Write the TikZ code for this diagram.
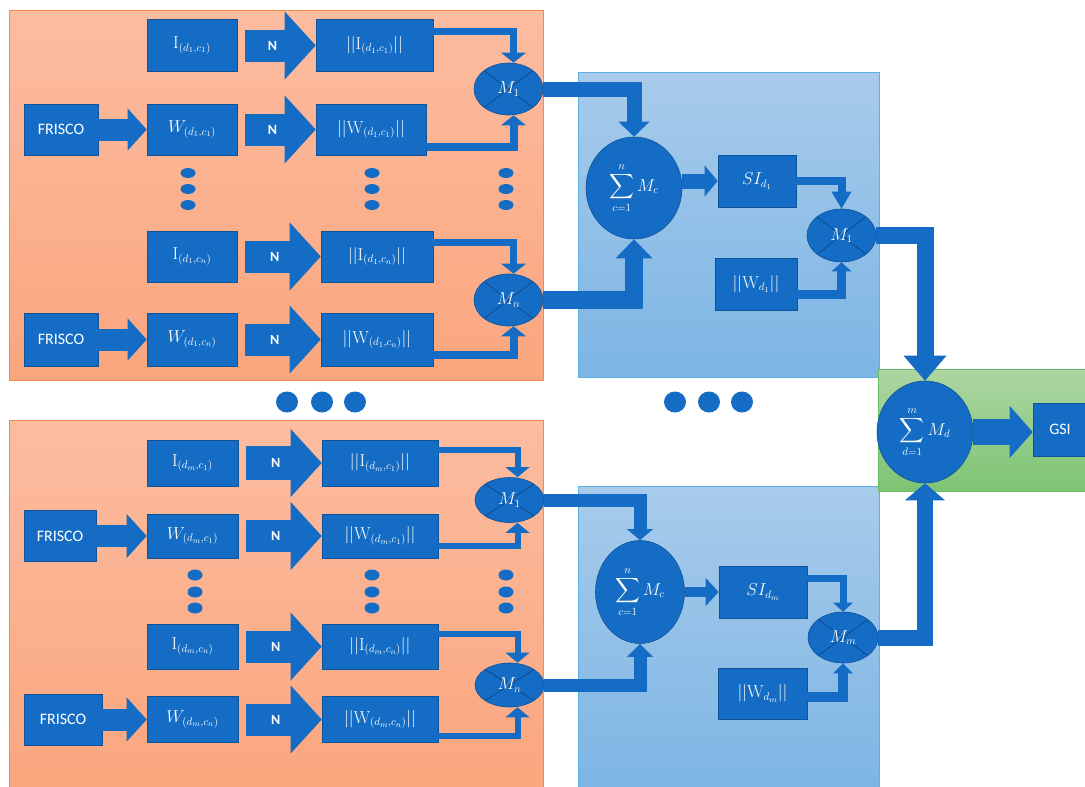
\documentclass[tikz,border=0pt]{standalone}
\usepackage{amsmath}
\usepackage[no-math]{fontspec}
\setmainfont{Carlito}
\usetikzlibrary{shapes.geometric,arrows.meta,positioning}
\definecolor{BoxBlue}{RGB}{21,108,196}
\definecolor{EdgeBlue}{RGB}{16,82,152}
\definecolor{CrossBlue}{RGB}{12,66,125}
\definecolor{PeachTop}{RGB}{252,188,160}
\definecolor{PeachBot}{RGB}{250,166,126}
\definecolor{PeachEdge}{RGB}{245,138,70}
\definecolor{SkyTop}{RGB}{168,203,235}
\definecolor{SkyBot}{RGB}{124,181,228}
\definecolor{SkyEdge}{RGB}{92,176,226}
\definecolor{LeafTop}{RGB}{172,214,162}
\definecolor{LeafBot}{RGB}{126,196,116}
\definecolor{LeafEdge}{RGB}{104,190,96}

\begin{document}
\begin{tikzpicture}[
    x=1pt, y=-1pt,
    blk/.style={rectangle, fill=BoxBlue, draw=EdgeBlue, line width=0.6pt, text=white, inner sep=0pt, minimum width=90pt, minimum height=52pt, font=\fontsize{16}{19}\selectfont},
    wide/.style={blk, minimum width=114pt},
    src/.style={blk, minimum width=74pt},
    mul/.style={ellipse, fill=BoxBlue, draw=EdgeBlue, line width=0.6pt, text=white, inner sep=0pt, minimum width=69pt, minimum height=52pt, font=\fontsize{16}{19}\selectfont,
        path picture={\draw[CrossBlue, line width=0.6pt] (path picture bounding box.north west) -- (path picture bounding box.south east) (path picture bounding box.north east) -- (path picture bounding box.south west);}},
    sigma/.style={ellipse, fill=BoxBlue, draw=EdgeBlue, line width=0.6pt, text=white, inner sep=0pt, minimum width=96pt, minimum height=102pt, font=\fontsize{16}{19}\selectfont},
    peach/.style={top color=PeachTop, bottom color=PeachBot, draw=PeachEdge, line width=1pt},
    sky/.style={top color=SkyTop, bottom color=SkyBot, draw=SkyEdge, line width=1pt},
    leaf/.style={top color=LeafTop, bottom color=LeafBot, draw=LeafEdge, line width=1pt},
    pipe/.style n args={3}{draw=BoxBlue, line width=#1, -{Triangle[length=#2 0 0, width=#3 0 0, line width=0pt 0 0]}},
    lab/.style={text=white, font=\fontsize{14}{16}\selectfont\bfseries, pos=0.45}
]
    \useasboundingbox (0,0) rectangle (1085,787);

    \path[peach] (9,10) rectangle (543,380);
    \path[peach] (9,420) rectangle (543,792);
    \path[sky] (578,72) rectangle (879,377);
    \path[sky] (578,486) rectangle (879,792);
    \path[leaf] (878,369) rectangle (1092,491);

    \foreach \x in {287,322,355,675,709,742}
        \fill[BoxBlue] (\x,402) ellipse [x radius=11pt, y radius=10.5pt];
    \foreach \x in {188,372,506}
        \foreach \y in {173,189,205}
            \fill[BoxBlue] (\x,\y) ellipse [x radius=7.5pt, y radius=5pt];
    \foreach \x in {195,372,506}
        \foreach \y in {575,592,608}
            \fill[BoxBlue] (\x,\y) ellipse [x radius=7.5pt, y radius=5.5pt];

    \node[blk] (i11) at (192,45.5) {$\mathrm{I}_{(d_1,c_1)}$};
    \node[wide, minimum width=117pt] (ni11) at (374.5,45.5) {$||\mathrm{I}_{(d_1,c_1)}||$};
    \node[src, minimum height=51pt] (f11) at (61,129.5) {FRISCO};
    \node[blk, minimum height=51pt] (w11) at (192,129.5) {$W_{(d_1,c_1)}$};
    \node[wide, minimum width=110pt, minimum height=51pt] (nw11) at (371,129.5) {$||\mathrm{W}_{(d_1,c_1)}||$};
    \node[mul] (m11) at (508.5,89) {$M_1$};

    \node[blk, minimum height=51pt] (i1n) at (192,256.5) {$\mathrm{I}_{(d_1,c_n)}$};
    \node[wide, minimum width=112pt, minimum height=51pt] (ni1n) at (377,256.5) {$||\mathrm{I}_{(d_1,c_n)}||$};
    \node[src, minimum height=53pt] (f1n) at (61,339.5) {FRISCO};
    \node[blk, minimum height=53pt] (w1n) at (192,339.5) {$W_{(d_1,c_n)}$};
    \node[wide, minimum width=112pt, minimum height=53pt] (nw1n) at (377,339.5) {$||\mathrm{W}_{(d_1,c_n)}||$};
    \node[mul] (m1n) at (508.5,300) {$M_n$};

    \node[sigma] (s1) at (634,188) {$\displaystyle\sum_{c=1}^{n} M_c$};
    \node[blk, minimum width=78pt] (si1) at (757,181) {$SI_{d_1}$};
    \node[mul, minimum height=53pt] (mm1) at (841.5,235.5) {$M_1$};
    \node[blk, minimum width=82pt] (wd1) at (756,284) {$||\mathrm{W}_{d_1}||$};

    \node[sigma] (gsum) at (925,432) {$\displaystyle\sum_{d=1}^{m} M_d$};
    \node[blk, minimum width=54pt, minimum height=53pt] (gsi) at (1060,429.5) {GSI};

    \node[blk, minimum width=91pt, minimum height=46pt] (im1) at (192.5,463) {$\mathrm{I}_{(d_m,c_1)}$};
    \node[wide, minimum width=116pt, minimum height=46pt] (nim1) at (380,463) {$||\mathrm{I}_{(d_m,c_1)}||$};
    \node[src, minimum width=72pt, minimum height=51pt] (fm1) at (60,536) {FRISCO};
    \node[blk, minimum width=91pt, minimum height=44pt] (wm1) at (192.5,536) {$W_{(d_m,c_1)}$};
    \node[wide, minimum width=116pt, minimum height=44pt] (nwm1) at (380,536) {$||\mathrm{W}_{(d_m,c_1)}||$};
    \node[mul, minimum height=45pt] (mmm1) at (509.5,500) {$M_1$};

    \node[blk, minimum width=91pt, minimum height=45pt] (imn) at (192.5,646.5) {$\mathrm{I}_{(d_m,c_n)}$};
    \node[wide, minimum width=116pt, minimum height=45pt] (nimn) at (380,646.5) {$||\mathrm{I}_{(d_m,c_n)}||$};
    \node[src, minimum width=78pt, minimum height=51pt] (fmn) at (63,719.5) {FRISCO};
    \node[blk, minimum width=91pt, minimum height=46pt] (wmn) at (192.5,719.5) {$W_{(d_m,c_n)}$};
    \node[wide, minimum width=116pt, minimum height=46pt] (nwmn) at (380,719.5) {$||\mathrm{W}_{(d_m,c_n)}||$};
    \node[mul, minimum height=44pt] (mmn) at (509.5,685) {$M_n$};

    \node[sigma, minimum width=89pt, minimum height=103pt] (s2) at (640,592) {$\displaystyle\sum_{c=1}^{n} M_c$};
    \node[blk, minimum width=88pt] (sim) at (763,592) {$SI_{d_m}$};
    \node[mul, minimum width=70pt, minimum height=51pt] (mmm) at (843,637.5) {$M_m$};
    \node[blk, minimum width=89pt, minimum height=51pt] (wdm) at (762.5,693.5) {$||\mathrm{W}_{d_m}||$};

    \draw[pipe={32pt}{31pt}{68pt}, shorten <=8pt] (i11.east) -- node[lab]{N} (ni11.west);
    \draw[pipe={22pt}{19pt}{42pt}] (f11.east) -- (w11.west);
    \draw[pipe={32pt}{31pt}{68pt}, shorten <=8pt] (w11.east) -- node[lab]{N} (nw11.west);
    \draw[pipe={7pt}{10pt}{25pt}] ([yshift=14pt]ni11.east) -| ([xshift=5pt]m11.north);
    \draw[pipe={8pt}{10pt}{25pt}] ([yshift=-17pt]nw11.east) -| ([xshift=5pt]m11.south);

    \draw[pipe={32pt}{31pt}{68pt}, shorten <=8pt] (i1n.east) -- node[lab]{N} (ni1n.west);
    \draw[pipe={22pt}{19pt}{42pt}] (f1n.east) -- (w1n.west);
    \draw[pipe={32pt}{31pt}{68pt}, shorten <=8pt] (w1n.east) -- node[lab]{N} (nw1n.west);
    \draw[pipe={7pt}{10pt}{25pt}] ([yshift=14pt]ni1n.east) -| ([xshift=5pt]m1n.north);
    \draw[pipe={8pt}{10pt}{25pt}] ([yshift=-15pt]nw1n.east) -| ([xshift=5pt]m1n.south);

    \draw[pipe={15pt}{15pt}{31pt}] (m11.east) -| (s1.north);
    \draw[pipe={18pt}{19pt}{37pt}] (m1n.east) -| (s1.south);
    \draw[pipe={15pt}{13pt}{31pt}] (s1.east |- si1.west) -- (si1.west);
    \draw[pipe={8pt}{17pt}{20pt}] (si1.east) -| (mm1.north);
    \draw[pipe={9pt}{9pt}{20pt}] ([yshift=-10pt]wd1.east) -| (mm1.south);
    \draw[pipe={17pt}{25pt}{43pt}] (mm1.east) -| (gsum.north);

    \draw[pipe={26pt}{23pt}{52pt}] (gsum.east) -- (gsum.east -| gsi.west);

    \draw[pipe={34pt}{31pt}{68pt}, shorten <=8pt] (im1.east) -- node[lab]{N} (nim1.west);
    \draw[pipe={22pt}{20pt}{44pt}] (fm1.east) -- (wm1.west);
    \draw[pipe={32pt}{31pt}{68pt}, shorten <=8pt] (wm1.east) -- node[lab]{N} (nwm1.west);
    \draw[pipe={6pt}{10pt}{24pt}] ([yshift=13pt]nim1.east) -| ([xshift=8pt]mmm1.north);
    \draw[pipe={6pt}{10pt}{24pt}] ([yshift=-10pt]nwm1.east) -| ([xshift=8pt]mmm1.south);

    \draw[pipe={32pt}{31pt}{68pt}, shorten <=8pt] (imn.east) -- node[lab]{N} (nimn.west);
    \draw[pipe={22pt}{20pt}{44pt}] (fmn.east) -- (wmn.west);
    \draw[pipe={32pt}{31pt}{68pt}, shorten <=8pt] (wmn.east) -- node[lab]{N} (nwmn.west);
    \draw[pipe={6pt}{10pt}{24pt}] ([yshift=13pt]nimn.east) -| ([xshift=8pt]mmn.north);
    \draw[pipe={6pt}{10pt}{24pt}] ([yshift=-16pt]nwmn.east) -| ([xshift=8pt]mmn.south);

    \draw[pipe={13pt}{11pt}{26pt}] (mmm1.east) -| (s2.north);
    \draw[pipe={13pt}{13pt}{26pt}] (mmn.east) -| (s2.south);
    \draw[pipe={10pt}{13pt}{28pt}] (s2.east) -- (sim.west);
    \draw[pipe={7pt}{9pt}{20pt}] ([yshift=14pt]sim.east) -| (mmm.north);
    \draw[pipe={10pt}{10pt}{20pt}] ([yshift=-3pt]wdm.east) -| (mmm.south);
    \draw[pipe={16pt}{17pt}{40pt}] (mmm.east) -| (gsum.south);
\end{tikzpicture}
\end{document}
